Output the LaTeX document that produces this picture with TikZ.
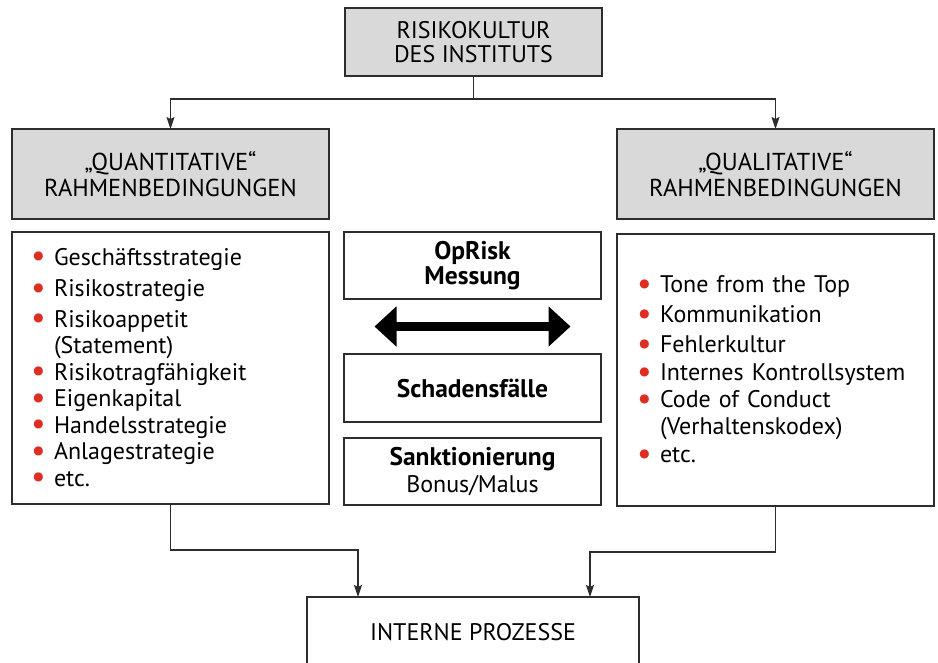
\documentclass[tikz,border=0pt]{standalone}
\usepackage{fontspec}
\setmainfont{PT Sans}
\usepackage{xcolor}
\usetikzlibrary{arrows.meta,positioning,calc}
\definecolor{headgray}{RGB}{217,217,217}
\definecolor{framegray}{RGB}{45,45,45}
\definecolor{bulletred}{RGB}{222,45,35}
\newcommand{\bul}{\makebox[23pt][l]{\raisebox{-0.07em}{\textcolor{bulletred}{\scalebox{1.35}{\textbullet}}}}}
\tikzset{
  box/.style={draw=framegray, line width=1.2pt, align=center, inner sep=0pt, outer sep=0pt, fill=white, font=\fontsize{24}{26}\selectfont},
  headbox/.style={box, fill=headgray, minimum width=317pt, minimum height=90pt, font=\fontsize{24.5}{26}\selectfont},
  listbox/.style={box, align=left, text width=279pt, inner xsep=19pt, minimum height=272pt, font=\fontsize{24}{26.5}\selectfont},
  midbox/.style={box, minimum width=257pt, minimum height=67pt},
  conn/.style={-{Stealth[length=12pt,width=8pt,inset=2pt]}, line width=1.1pt, draw=framegray},
  bigarrow/.style={{Triangle[length=22pt,width=39pt]}-{Triangle[length=22pt,width=39pt]}, line width=9pt, draw=black}
}

\begin{document}
\begin{tikzpicture}[x=1pt, y=-1pt]

\useasboundingbox (0,0) rectangle (938,662);

\node (top) [box, fill=headgray, minimum width=257pt, minimum height=68pt,
  font=\fontsize{24}{24}\selectfont] at (473.5,42)
{RISIKOKULTUR\\DES INSTITUTS};

\node (lhead) [headbox] at (170.5,174) {„QUANTITATIVE“\\RAHMENBEDINGUNGEN};
\node (rhead) [headbox] at (775.5,174) {„QUALITATIVE“\\RAHMENBEDINGUNGEN};

\node (llist) [listbox, below=13pt of lhead]
{\bul Geschäftsstrategie\\[5pt]
 \bul Risikostrategie\\[4pt]
 \bul Risikoappetit\\
 \hspace*{23pt}(Statement)\\
 \bul Risikotragfähigkeit\\
 \bul Eigenkapital\\
 \bul Handelsstrategie\\
 \bul Anlagestrategie\\
 \bul etc.};

\node (rlist) [listbox, below=13pt of rhead, inner xsep=20pt, text width=277pt, yshift=-2pt]
{\bul Tone from the Top\\[3.5pt]
 \bul Kommunikation\\[3.5pt]
 \bul Fehlerkultur\\[1.5pt]
 \bul Internes Kontrollsystem\\[0.5pt]
 \bul Code of Conduct\\
 \hspace*{23pt}(Verhaltenskodex)\\[1.5pt]
 \bul etc.};

% middle column
\node (oprisk) [midbox, font=\fontsize{25.5}{25}\selectfont\bfseries] at (472.5,265.5)
{OpRisk\\Messung};
\node (schaden) [midbox, below=55pt of oprisk, minimum height=68pt, font=\fontsize{25.5}{26}\selectfont\bfseries]
{Schadensfälle};
\node (sankt) [midbox, below=16pt of schaden, font=\fontsize{24}{27}\selectfont]
{{\fontsize{25.5}{27}\selectfont\bfseries Sanktionierung}\\Bonus/Malus};

\node (bottom) [box, minimum width=332pt, minimum height=70pt] at (473,632)
{INTERNE PROZESSE};

\coordinate (mid) at ($(oprisk.south)!0.5!(schaden.north)$);
\coordinate (arrowL) at ([xshift=-98pt]mid);
\coordinate (arrowR) at ([xshift=98pt]mid);
\draw[bigarrow] (arrowL) -- (arrowR);

\foreach \head in {lhead, rhead}{
  \draw[conn] (top.south) -- ++(0,23) -| (\head.north);
}

\foreach \list/\shift in {llist/-115pt, rlist/117pt}{
  \draw[conn] (\list.south) -- ++(0,46) -| ([xshift=\shift]bottom.north);
}

\end{tikzpicture}
\end{document}
